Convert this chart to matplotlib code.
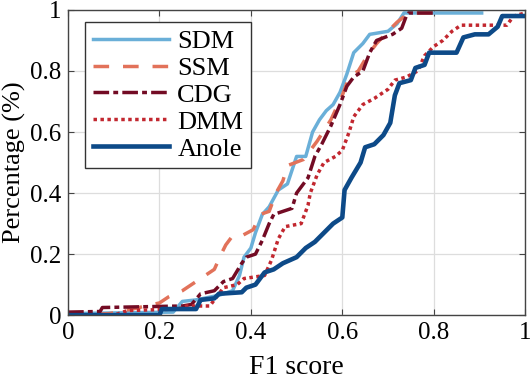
import matplotlib
matplotlib.use("Agg")
import matplotlib.pyplot as plt

# F1 score / CDF vertices
sdm_x = [0, 0.23, 0.25, 0.28, 0.33, 0.36, 0.375, 0.385, 0.40, 0.41, 0.425, 0.44, 0.46, 0.48, 0.50,
         0.52, 0.535, 0.55, 0.565, 0.58, 0.595, 0.61, 0.625, 0.645, 0.66, 0.70, 0.72, 0.735, 0.905]
sdm_y = [0.005, 0.01, 0.045, 0.05, 0.065, 0.08, 0.13, 0.19, 0.22, 0.27, 0.33, 0.355, 0.41, 0.43, 0.52,
         0.52, 0.60, 0.64, 0.67, 0.69, 0.73, 0.79, 0.86, 0.89, 0.92, 0.93, 0.955, 0.99, 0.99]

ssm_x = [0, 0.09, 0.14, 0.2, 0.22, 0.25, 0.29, 0.32, 0.335, 0.345, 0.36, 0.38, 0.405, 0.42, 0.44,
         0.455, 0.47, 0.48, 0.515, 0.545, 0.575, 0.6, 0.615, 0.635, 0.655, 0.675, 0.7, 0.72, 0.745, 0.81]
ssm_y = [0.0, 0.005, 0.02, 0.04, 0.06, 0.08, 0.12, 0.15, 0.2, 0.23, 0.26, 0.26, 0.28, 0.33, 0.34,
         0.4, 0.44, 0.49, 0.51, 0.57, 0.64, 0.72, 0.78, 0.8, 0.85, 0.89, 0.93, 0.96, 0.99, 0.99]

cdg_x = [0, 0.07, 0.075, 0.25, 0.27, 0.29, 0.32, 0.34, 0.36, 0.38, 0.39, 0.41, 0.425, 0.44, 0.45,
         0.49, 0.50, 0.525, 0.54, 0.555, 0.575, 0.595, 0.61, 0.625, 0.645, 0.66, 0.675, 0.71, 0.73,
         0.74, 0.745, 0.8]
cdg_y = [0.01, 0.012, 0.025, 0.03, 0.035, 0.07, 0.08, 0.11, 0.12, 0.17, 0.19, 0.2, 0.245, 0.3, 0.33,
         0.35, 0.40, 0.45, 0.52, 0.56, 0.62, 0.69, 0.75, 0.78, 0.8, 0.86, 0.9, 0.92, 0.94,
         0.98, 0.99, 0.99]

dmm_x = [0, 0.1, 0.13, 0.24, 0.26, 0.31, 0.34, 0.37, 0.385, 0.43, 0.445, 0.46, 0.475, 0.51, 0.525,
         0.53, 0.545, 0.56, 0.585, 0.6, 0.615, 0.625, 0.645, 0.67, 0.7, 0.715, 0.74, 0.765, 0.78,
         0.8, 0.82, 0.84, 0.86, 0.96, 0.975, 1.0]
dmm_y = [0.0, 0.0, 0.015, 0.02, 0.03, 0.03, 0.09, 0.1, 0.12, 0.13, 0.18, 0.25, 0.29, 0.3, 0.36,
         0.4, 0.46, 0.5, 0.52, 0.54, 0.6, 0.65, 0.69, 0.71, 0.74, 0.77, 0.78, 0.8, 0.85,
         0.88, 0.9, 0.93, 0.95, 0.95, 0.98, 0.99]

anole_x = [0, 0.2, 0.205, 0.28, 0.29, 0.32, 0.33, 0.38, 0.39, 0.41, 0.43, 0.45, 0.47, 0.5, 0.52,
           0.54, 0.56, 0.58, 0.6, 0.605, 0.62, 0.64, 0.65, 0.67, 0.69, 0.705, 0.715, 0.725, 0.75,
           0.76, 0.78, 0.79, 0.85, 0.865, 0.89, 0.92, 0.94, 0.95, 1.0]
anole_y = [0.0, 0.0, 0.02, 0.02, 0.05, 0.055, 0.07, 0.075, 0.09, 0.1, 0.14, 0.15, 0.17, 0.19, 0.22,
           0.24, 0.27, 0.3, 0.32, 0.41, 0.45, 0.5, 0.55, 0.56, 0.59, 0.63, 0.72, 0.76, 0.77,
           0.81, 0.82, 0.86, 0.86, 0.91, 0.92, 0.92, 0.945, 0.98, 0.98]

ticks = [0, 0.2, 0.4, 0.6, 0.8, 1]
tick_labels = ["0", "0.2", "0.4", "0.6", "0.8", "1"]

plt.rcParams['font.family'] = ['Liberation Serif', 'DejaVu Serif']

fig = plt.figure(figsize=(5.32, 3.82), dpi=100)
ax = fig.add_axes([0.128, 0.175, 0.859, 0.799])

ax.plot(sdm_x, sdm_y, color='#6aafd8', lw=2.5, label='SDM')
ax.plot(ssm_x, ssm_y, color='#e2725a', lw=2.5, dashes=(4.5, 4), label='SSM')
ax.plot(cdg_x, cdg_y, color='#730b24', lw=2.5, dashes=(4.5, 1.2, 1.4, 1.2), label='CDG')
ax.plot(dmm_x, dmm_y, color='#c2272f', lw=2.5, dashes=(1, 1), label='DMM')
ax.plot(anole_x, anole_y, color='#0d4a88', lw=3.3, label='Anole')

ax.set_xlim(0, 1)
ax.set_ylim(0, 1)
ax.set_xticks(ticks)
ax.set_xticklabels(tick_labels)
ax.set_yticks(ticks)
ax.set_yticklabels(tick_labels)
ax.tick_params(direction='in', top=True, right=True, labelsize=18, length=4,
               color='#444444', pad=5)
ax.grid(True, color='#dddddd', lw=0.9)
for s in ax.spines.values():
    s.set_color('#444444')
    s.set_linewidth(1.0)

ax.set_xlabel('F1 score', fontsize=20, labelpad=8)
ax.set_ylabel('Percentage (%)', fontsize=19, labelpad=3)

leg = ax.legend(loc='upper left', bbox_to_anchor=(0.037, 0.962), borderaxespad=0,
                fontsize=19, handlelength=2.9, labelspacing=0.13, handletextpad=0.3,
                borderpad=0.3, fancybox=False, edgecolor='#333333', framealpha=1)
leg.get_frame().set_linewidth(1.0)

fig.savefig('out.png', dpi=100)
